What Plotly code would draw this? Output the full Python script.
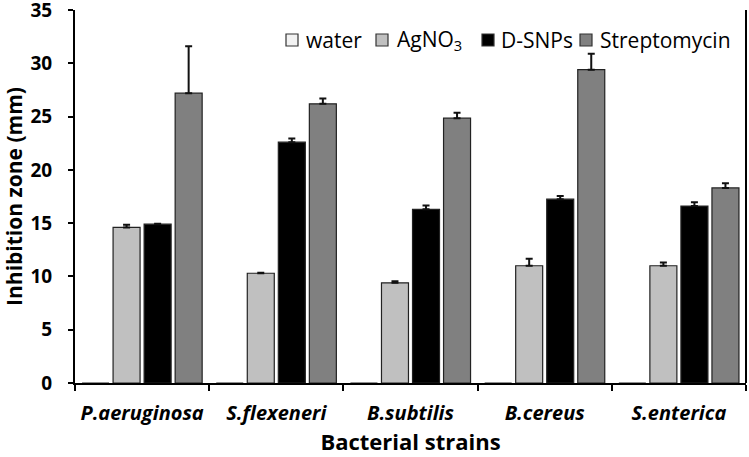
import plotly.graph_objects as go

strains = ["P.aeruginosa", "S.flexeneri", "B.subtilis", "B.cereus", "S.enterica"]
series_names = ["water", "AgNO<sub>3</sub>", "D-SNPs", "Streptomycin"]
water = [0, 0, 0, 0, 0]
water_err = [0, 0, 0, 0, 0]
agno3 = [14.6, 10.3, 9.4, 11.0, 11.0]
agno3_err = [0.25, 0.05, 0.15, 0.65, 0.3]
dsnps = [14.9, 22.6, 16.3, 17.25, 16.6]
dsnps_err = [0.05, 0.35, 0.35, 0.3, 0.35]
strep = [27.2, 26.2, 24.85, 29.4, 18.3]
strep_err = [4.4, 0.5, 0.5, 1.5, 0.45]
y_ticks = [0, 5, 10, 15, 20, 25, 30, 35]

colors = ["#f2f2f2", "#c0c0c0", "#000000", "#808080"]
values = [water, agno3, dsnps, strep]
errors = [water_err, agno3_err, dsnps_err, strep_err]

FONT = "Open Sans"
W, H = 749, 457
ML, MR, MT, MB = 75, 3, 10, 74
PW, PH = W - ML - MR, H - MT - MB

def px_x(px):
    return (px - ML) / PW

def px_y(py):
    return (H - MB - py) / PH

labels = [f"<b><i>{s}</i></b>" for s in strains]

fig = go.Figure()
for name, vals, errs, col in zip(series_names, values, errors, colors):
    fig.add_trace(go.Bar(
        x=labels, y=vals, name=name, showlegend=False,
        marker=dict(color=col, line=dict(color="#222222", width=1.2)),
        error_y=dict(type="data", array=errs, arrayminus=[0]*len(errs), symmetric=False,
                     color="#111111", thickness=2, width=3.5,
                     visible=any(e > 0 for e in errs)),
    ))

# legend drawn as squares + text labels (matches the tight reference layout)
legend_sq_left = [286, 376, 482, 580]
legend_txt_left = [304, 395, 499, 598]
legend_y = 40
shapes = [dict(type="line", xref="paper", yref="paper", x0=1, x1=1, y0=0, y1=1,
               line=dict(color="#000000", width=2))]
annotations = []
for name, col, sx, tx in zip(series_names, colors, legend_sq_left, legend_txt_left):
    shapes.append(dict(type="rect", xref="paper", yref="paper",
                       x0=px_x(sx), x1=px_x(sx + 12), y0=px_y(legend_y + 6), y1=px_y(legend_y - 6),
                       fillcolor=col, line=dict(color="#333333", width=1.2)))
    annotations.append(dict(text=name, xref="paper", yref="paper", x=px_x(tx), y=px_y(legend_y),
                            xanchor="left", yanchor="middle", showarrow=False,
                            font=dict(size=21, family=FONT, color="#000000")))

fig.update_layout(
    width=W, height=H,
    margin=dict(l=ML, r=MR, t=MT, b=MB, autoexpand=False),
    paper_bgcolor="white", plot_bgcolor="white",
    barmode="group", bargap=0.075, bargroupgap=0.13,
    font=dict(family=FONT, color="#000000"),
    showlegend=False,
    shapes=shapes, annotations=annotations,
)
fig.update_xaxes(
    showline=True, linecolor="#000000", linewidth=2,
    ticks="outside", tickson="boundaries", ticklen=6, tickwidth=2, tickcolor="#000000",
    tickfont=dict(size=20, family=FONT), ticklabelstandoff=11,
    title=dict(text="<b>Bacterial strains</b>", font=dict(size=22, family=FONT), standoff=4),
)
fig.update_yaxes(
    range=[0, 35], tickvals=y_ticks, ticktext=[f"<b>{t}</b>" for t in y_ticks],
    showline=True, linecolor="#000000", linewidth=2, showgrid=False, zeroline=False,
    ticks="outside", ticklen=5, tickwidth=2, tickcolor="#000000",
    tickfont=dict(size=19, family=FONT), ticklabelstandoff=12, ticklabeloverflow="allow",
    title=dict(text="<b>Inhibition zone (mm)</b>", font=dict(size=21, family=FONT), standoff=8),
)

fig.write_html("out.html", config={"displayModeBar": False})
with open("out.html", "r", encoding="utf-8") as f:
    html = f.read()
html = html.replace("<head>", "<head><style>html,body{margin:0;padding:0;}</style>", 1)
with open("out.html", "w", encoding="utf-8") as f:
    f.write(html)
